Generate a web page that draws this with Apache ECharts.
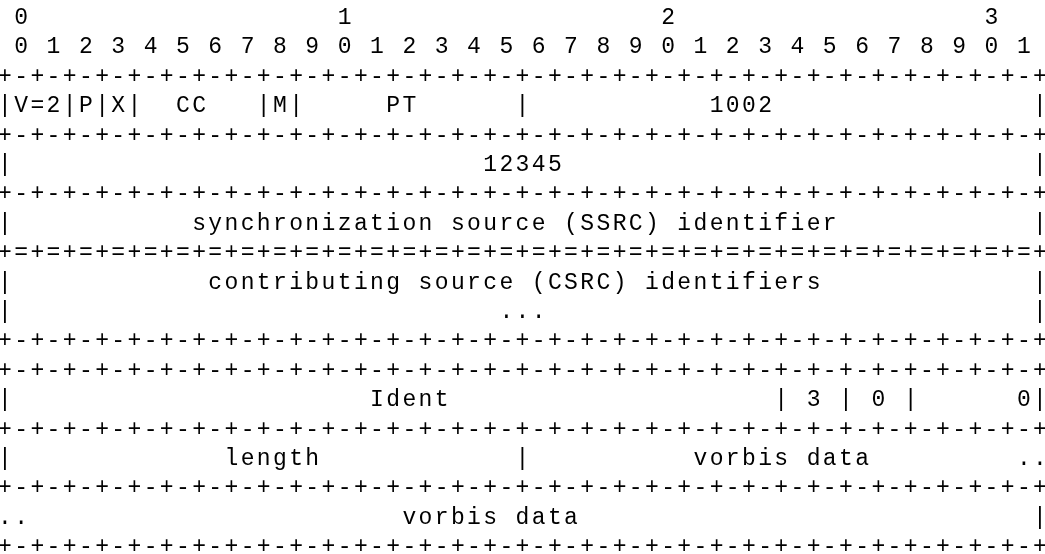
<!DOCTYPE html>
<html>
<head>
<meta charset="utf-8">
<script src="https://cdn.jsdelivr.net/npm/echarts@6/dist/echarts.min.js"></script>
<style>
html,body{margin:0;padding:0;background:#fff;}
#main{width:1045px;height:554px;}
</style>
</head>
<body>
<div id="main"></div>
<script>
const sp = n => ' '.repeat(n);
// Bit ruler (tick labels)
const bitTens  = " 0                   1                   2                   3";
const bitUnits = " 0 1 2 3 4 5 6 7 8 9 0 1 2 3 4 5 6 7 8 9 0 1 2 3 4 5 6 7 8 9 0 1";
const sepDash  = "+-+-+-+-+-+-+-+-+-+-+-+-+-+-+-+-+-+-+-+-+-+-+-+-+-+-+-+-+-+-+-+-+";
const sepEq    = "+=+=+=+=+=+=+=+=+=+=+=+=+=+=+=+=+=+=+=+=+=+=+=+=+=+=+=+=+=+=+=+=+";
// RTP header rows
const rtpRows = [
  "|V=2|P|X|  CC   |M|     PT      |" + sp(11) + "1002" + sp(16) + "|",
  "|" + sp(29) + "12345" + sp(29) + "|",
  "|" + sp(11) + "synchronization source (SSRC) identifier" + sp(12) + "|"
];
const csrcRows = [
  "|" + sp(12) + "contributing source (CSRC) identifiers" + sp(13) + "|",
  "|" + sp(30) + "..." + sp(30) + "|"
];
// Vorbis payload rows
const payloadRows = [
  "|" + sp(22) + "Ident" + sp(20) + "| 3 | 0 |" + sp(6) + "0|",
  "|" + sp(13) + "length" + sp(12) + "|" + sp(10) + "vorbis data" + sp(9) + "..",
  ".." + sp(23) + "vorbis data" + sp(28) + "|"
];

const lines = [
  bitTens, bitUnits, sepDash,
  rtpRows[0], sepDash,
  rtpRows[1], sepDash,
  rtpRows[2], sepEq,
  csrcRows[0], csrcRows[1], sepDash,
  sepDash,
  payloadRows[0], sepDash,
  payloadRows[1], sepDash,
  payloadRows[2], sepDash
];

const chart = echarts.init(document.getElementById('main'), null, {renderer: 'canvas'});
chart.setOption({
  animation: false,
  backgroundColor: '#ffffff',
  grid: {left: 5, top: 18, width: 1035, height: 529.2, containLabel: false},
  xAxis: {type: 'value', min: 0, max: 64, show: false},
  yAxis: {type: 'value', min: 0, max: 18, inverse: true, show: false},
  series: [{
    type: 'custom',
    coordinateSystem: 'cartesian2d',
    data: lines.map((s, i) => [0, i]),
    renderItem: function (params, api) {
      const row = api.value(1);
      const s = lines[params.dataIndex];
      const children = [];
      for (let j = 0; j < s.length; j++) {
        const ch = s[j];
        if (ch === ' ') continue;
        const p = api.coord([j, row]);
        children.push({
          type: 'text',
          x: p[0], y: p[1],
          style: {
            text: ch,
            fill: '#000',
            font: '23px "Liberation Mono", "DejaVu Sans Mono", monospace',
            align: 'center',
            verticalAlign: 'middle'
          }
        });
      }
      return {type: 'group', children: children};
    }
  }]
});
</script>
</body>
</html>
